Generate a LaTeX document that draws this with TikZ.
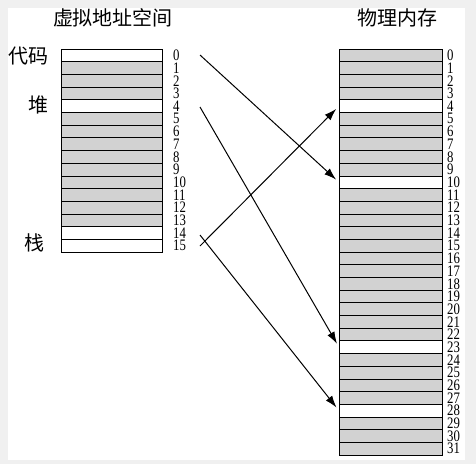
\documentclass[tikz,border=0pt]{standalone}
\usepackage{fontspec}
\setmainfont{Liberation Serif}
\newfontfamily\cjk{Noto Sans CJK SC}
\usetikzlibrary{arrows.meta}

\begin{document}
\begin{tikzpicture}[
    x=0.75pt, y=-0.75pt,
    vrow/.style  = {draw, line width=0.6pt, inner sep=0pt, outer sep=0pt,
                    minimum width=75.75pt, minimum height=9.52pt},
    prow/.style  = {vrow, minimum width=77.25pt},
    num/.style   = {anchor=west, inner sep=0pt,
                    font=\fontsize{12}{12}\selectfont, xscale=0.8},
    title/.style = {font=\cjk\fontsize{15}{15}\selectfont, inner sep=0pt},
    map/.style   = {-{Latex[length=9pt,width=6pt]}, line width=0.75pt,
                    shorten >=3pt}
]
\useasboundingbox (0,0) rectangle (476,464);
\fill[gray!12] (0,0) rectangle (476,464);
\fill[white] (8,8) rectangle (465,460);

% virtual address space
\foreach \i in {0,...,15} {
    \pgfmathsetmacro\yc{55.35+12.69*\i}
    \pgfmathtruncatemacro\isfree{(\i==0)||(\i==4)||(\i==14)||(\i==15)}
    \ifnum\isfree=1 \def\rc{white}\else\def\rc{gray!35}\fi
    \node[vrow, fill=\rc] (v\i) at (111.5,\yc) {};
    \node[num] (vn\i) at (173,\yc) {\i};
}

% physical memory
\foreach \i in {0,...,31} {
    \pgfmathsetmacro\yc{55.35+12.69*\i}
    \pgfmathtruncatemacro\isfree{(\i==4)||(\i==10)||(\i==23)||(\i==28)}
    \ifnum\isfree=1 \def\rc{white}\else\def\rc{gray!35}\fi
    \node[prow, fill=\rc] (p\i) at (390.5,\yc) {};
    \node[num] (pn\i) at (447,\yc) {\i};
}

\node[title] (vtitle) at (113,18) {虚拟地址空间};
\node[title] (ptitle) at (397,18) {物理内存};
\node[title] (code)   at (28,56)  {代码};
\node[title] (heap)   at (38,105) {堆};
\node[title] (stack)  at (34,243) {栈};

\coordinate (codeout) at (200,55);
\coordinate (heapout) at (200,107);
\coordinate (stackhi) at (200,235);
\coordinate (stacklo) at (200,246);

\draw[map] (codeout) -- (p10.west);
\draw[map] (heapout) -- (p23.west);
\draw[map] (stacklo) -- (p4.west);
\draw[map] (stackhi) -- (p28.west);
\end{tikzpicture}
\end{document}
